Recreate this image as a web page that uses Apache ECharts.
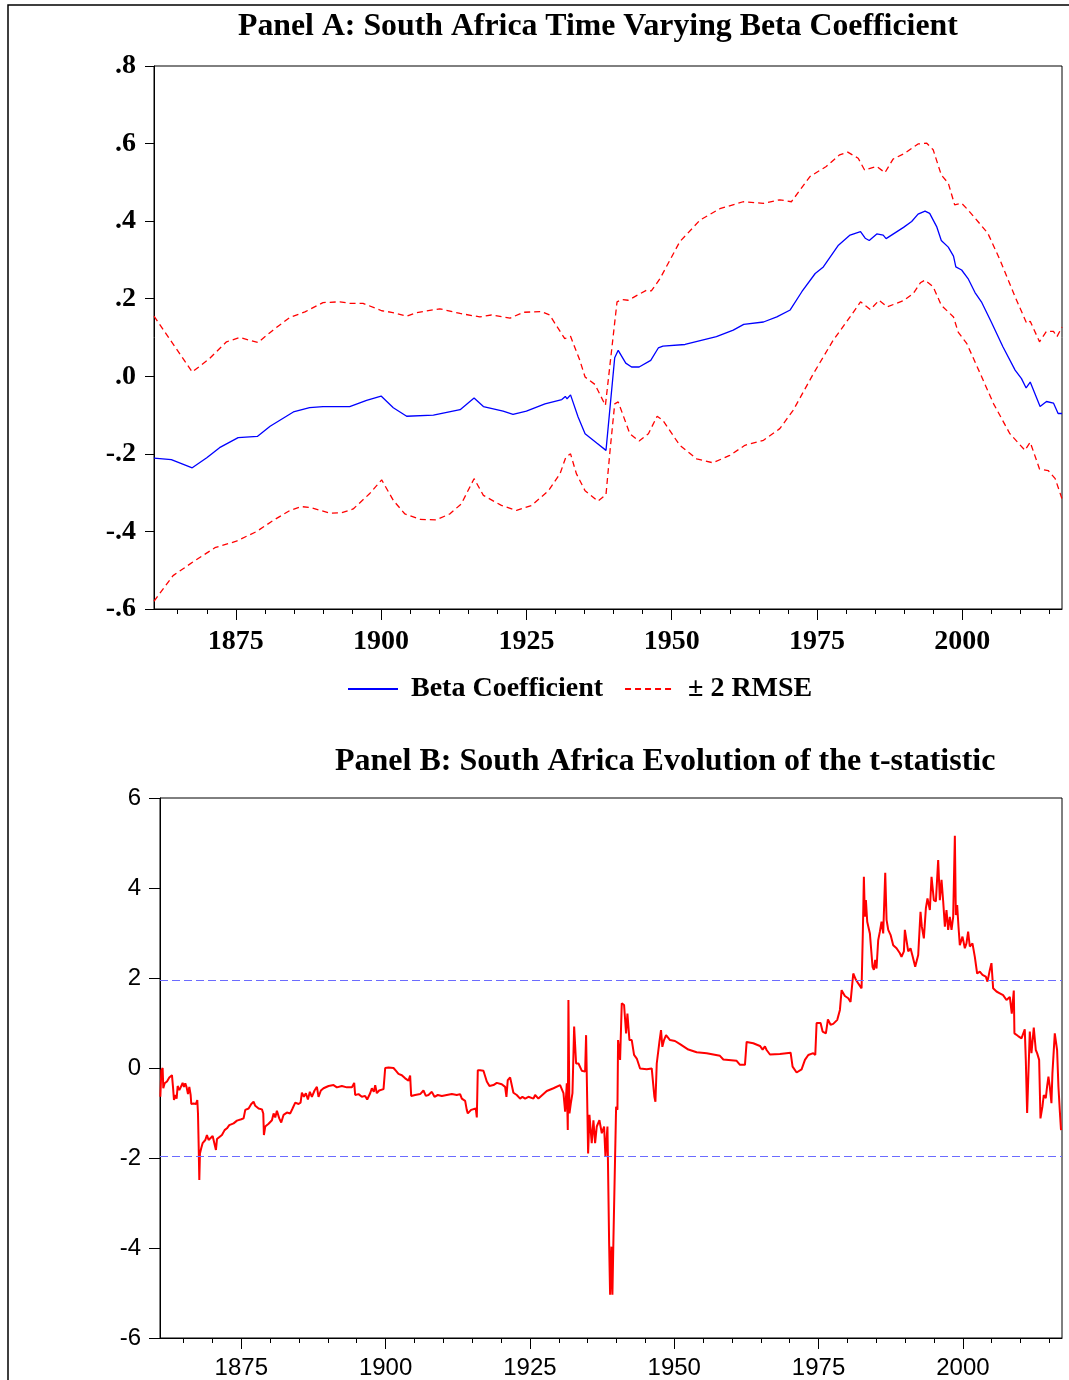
<!DOCTYPE html>
<html>
<head>
<meta charset="utf-8">
<script src="https://cdn.jsdelivr.net/npm/echarts@6/dist/echarts.min.js"></script>
<style>
  html, body { margin: 0; padding: 0; background: #fff; }
  #chart { width: 1069px; height: 1380px; }
</style>
</head>
<body>
<div id="chart"></div>
<script>
// ---------- Panel A data ----------
const betaYears = [1860.92,1863.9,1867.5,1870.0,1872.2,1875.4,1878.7,1880.9,1884.9,1887.7,1890.0,1894.6,1897.5,1900.0,1902.1,1904.4,1909.0,1913.6,1916.0,1917.6,1921.0,1922.7,1925.0,1928.2,1931.1,1931.7,1932.0,1932.6,1933.9,1935.1,1937.1,1938.7,1940.2,1940.8,1942.1,1943.1,1944.4,1946.4,1947.7,1948.5,1952.3,1957.7,1960.6,1962.4,1965.8,1968.1,1970.4,1972.4,1974.7,1976.1,1978.7,1980.7,1982.5,1983.3,1984.0,1985.3,1986.4,1986.9,1989.9,1991.3,1992.4,1993.6,1994.4,1995.6,1996.4,1997.6,1998.5,1998.9,1999.9,2001.0,2002.2,2003.3,2005.0,2007.0,2009.1,2010.2,2011.0,2011.7,2013.4,2014.5,2015.7,2016.5,2017.17];
const betaValues = [-0.211,-0.215,-0.236,-0.210,-0.184,-0.158,-0.155,-0.129,-0.092,-0.081,-0.078,-0.078,-0.062,-0.051,-0.081,-0.103,-0.100,-0.086,-0.056,-0.078,-0.090,-0.098,-0.090,-0.071,-0.060,-0.052,-0.058,-0.048,-0.105,-0.148,-0.172,-0.191,0.048,0.067,0.034,0.024,0.024,0.041,0.073,0.078,0.082,0.102,0.119,0.134,0.140,0.153,0.171,0.218,0.265,0.282,0.338,0.364,0.373,0.356,0.350,0.367,0.364,0.355,0.384,0.399,0.418,0.426,0.420,0.386,0.350,0.333,0.310,0.282,0.274,0.252,0.216,0.192,0.140,0.076,0.016,-0.006,-0.030,-0.015,-0.078,-0.065,-0.069,-0.096,-0.096];

const upperYears = [1860.92,1867.5,1870.5,1873.4,1875.7,1878.8,1881.4,1884.3,1886.9,1890.0,1892.9,1894.6,1896.9,1900.1,1901.8,1904.4,1906.1,1910.1,1913.6,1917.0,1919.0,1922.2,1924.5,1927.6,1929.0,1931.6,1932.6,1934.2,1935.1,1936.8,1938.6,1940.6,1941.4,1942.5,1945.7,1946.5,1948.0,1951.4,1954.9,1958.3,1962.3,1965.8,1968.6,1970.6,1973.8,1976.6,1978.9,1980.3,1982.1,1983.2,1985.3,1986.7,1988.1,1990.1,1992.4,1993.9,1995.0,1996.4,1997.6,1998.7,1999.9,2001.0,2002.7,2004.4,2006.5,2009.1,2011.1,2011.7,2013.3,2014.5,2015.7,2016.3,2017.17];
const upperValues = [0.155,0.011,0.046,0.089,0.100,0.087,0.119,0.152,0.166,0.190,0.192,0.188,0.188,0.169,0.165,0.155,0.164,0.174,0.162,0.153,0.158,0.150,0.165,0.167,0.158,0.097,0.103,0.041,-0.002,-0.021,-0.075,0.192,0.198,0.196,0.222,0.220,0.252,0.347,0.403,0.432,0.450,0.446,0.455,0.450,0.515,0.541,0.571,0.578,0.562,0.532,0.541,0.525,0.560,0.575,0.599,0.601,0.584,0.519,0.498,0.442,0.446,0.429,0.399,0.369,0.300,0.205,0.136,0.142,0.089,0.116,0.116,0.102,0.127];

const lowerYears = [1860.92,1864.2,1867.6,1871.4,1875.1,1878.6,1881.4,1884.3,1886.3,1887.7,1891.2,1893.2,1895.2,1898.0,1900.1,1902.1,1904.1,1906.7,1909.5,1911.8,1913.8,1916.0,1917.6,1920.7,1923.3,1925.9,1928.8,1930.8,1931.8,1932.6,1933.6,1935.1,1937.3,1938.7,1939.4,1940.2,1940.8,1942.8,1944.4,1946.0,1947.5,1948.5,1951.4,1954.3,1957.1,1960.0,1962.6,1965.8,1968.6,1970.9,1974.4,1977.8,1980.7,1982.5,1984.2,1985.7,1987.1,1989.9,1991.6,1992.8,1993.6,1995.0,1996.4,1998.5,1999.3,2000.8,2003.1,2005.4,2008.2,2010.8,2011.7,2013.3,2014.8,2016.0,2017.17];
const lowerValues = [-0.580,-0.514,-0.479,-0.442,-0.425,-0.400,-0.372,-0.346,-0.336,-0.338,-0.353,-0.352,-0.342,-0.303,-0.267,-0.320,-0.355,-0.369,-0.370,-0.355,-0.329,-0.264,-0.307,-0.333,-0.346,-0.333,-0.295,-0.251,-0.208,-0.200,-0.251,-0.295,-0.322,-0.305,-0.191,-0.071,-0.066,-0.148,-0.167,-0.148,-0.103,-0.114,-0.178,-0.213,-0.223,-0.204,-0.178,-0.165,-0.135,-0.088,0.007,0.093,0.153,0.192,0.172,0.196,0.179,0.195,0.214,0.241,0.248,0.231,0.183,0.153,0.114,0.084,0.007,-0.071,-0.148,-0.191,-0.170,-0.239,-0.243,-0.264,-0.316];

// ---------- Panel B data ----------
const tYears = [1860.98,1861.15,1861.38,1861.49,1861.73,1862.13,1862.53,1862.99,1863.17,1863.34,1863.57,1863.80,1863.98,1864.27,1864.50,1864.84,1865.07,1865.30,1865.53,1865.77,1866.00,1866.23,1866.34,1866.75,1867.15,1867.38,1867.50,1867.61,1867.73,1867.84,1868.07,1868.30,1868.77,1869.05,1869.34,1869.63,1870.04,1870.38,1870.61,1870.79,1871.07,1871.65,1872.11,1872.52,1872.92,1873.67,1874.25,1875.00,1875.40,1875.69,1876.27,1876.73,1877.13,1877.42,1878.00,1878.58,1878.81,1878.92,1879.15,1879.73,1880.31,1880.60,1880.88,1881.17,1881.58,1881.92,1882.33,1882.90,1883.48,1883.88,1884.35,1884.92,1885.27,1885.50,1885.85,1886.19,1886.54,1886.88,1887.23,1887.69,1888.10,1888.38,1888.79,1889.25,1890.12,1890.98,1891.56,1892.42,1893.29,1894.16,1894.56,1894.73,1895.31,1895.89,1896.46,1896.81,1897.33,1897.62,1897.96,1898.20,1898.48,1898.89,1899.64,1899.93,1900.50,1901.37,1901.77,1902.23,1902.81,1903.39,1903.97,1904.25,1904.43,1905.12,1905.99,1906.56,1906.97,1907.43,1908.01,1908.47,1909.04,1909.74,1910.60,1911.47,1912.33,1912.91,1913.20,1913.78,1914.06,1914.24,1914.81,1915.62,1915.80,1915.97,1916.37,1916.95,1917.24,1917.53,1917.99,1918.68,1919.26,1920.12,1920.70,1920.93,1921.16,1921.57,1921.85,1922.14,1922.72,1923.30,1923.70,1924.17,1924.74,1925.61,1925.90,1926.47,1927.92,1929.08,1930.23,1930.81,1931.10,1931.39,1931.56,1931.67,1931.85,1932.08,1932.37,1932.66,1933.00,1933.41,1933.98,1934.56,1934.73,1934.96,1935.08,1935.31,1935.71,1936.00,1936.29,1936.58,1937.04,1937.45,1937.85,1938.08,1938.43,1938.72,1938.89,1939.12,1939.29,1939.47,1939.93,1940.16,1940.27,1940.62,1940.91,1941.31,1941.66,1941.89,1942.24,1942.64,1943.04,1943.51,1944.08,1945.24,1946.10,1946.39,1946.56,1946.74,1946.97,1947.43,1947.71,1947.94,1948.23,1948.58,1949.27,1950.13,1951.00,1952.44,1953.88,1955.62,1957.92,1958.50,1960.81,1961.39,1962.25,1962.54,1963.69,1964.85,1965.31,1965.71,1966.00,1966.58,1968.31,1970.16,1970.50,1971.20,1972.06,1972.64,1973.22,1974.08,1974.43,1974.66,1975.35,1975.70,1976.27,1976.62,1977.08,1977.54,1978.24,1978.70,1978.99,1979.56,1980.14,1980.54,1981.01,1981.47,1981.87,1982.45,1982.68,1982.85,1983.02,1983.20,1983.43,1983.89,1984.35,1984.58,1984.81,1985.04,1985.33,1985.62,1985.91,1986.20,1986.55,1986.78,1987.07,1987.47,1987.93,1988.51,1989.09,1989.37,1989.78,1989.95,1990.53,1990.93,1991.28,1991.74,1992.26,1992.66,1992.89,1993.24,1993.59,1993.87,1994.28,1994.57,1994.97,1995.32,1995.72,1996.01,1996.30,1996.59,1996.88,1997.16,1997.45,1997.74,1998.03,1998.32,1998.61,1998.78,1999.01,1999.24,1999.47,1999.93,2000.34,2000.62,2000.91,2001.20,2001.66,2002.07,2002.47,2002.93,2003.40,2003.97,2004.26,2004.67,2004.95,2005.24,2005.82,2006.40,2006.97,2007.55,2008.13,2008.47,2008.82,2008.93,2009.57,2010.15,2010.72,2010.90,2011.13,2011.36,2011.59,2011.88,2012.28,2012.63,2012.86,2013.21,2013.44,2013.78,2014.01,2014.36,2014.59,2014.82,2015.05,2015.34,2015.51,2015.92,2016.09,2016.32,2016.55,2016.78,2017.00];
const tValues = [-0.64,-0.05,0.00,-0.45,-0.34,-0.30,-0.21,-0.16,-0.42,-0.71,-0.60,-0.68,-0.40,-0.49,-0.43,-0.33,-0.42,-0.34,-0.43,-0.58,-0.42,-0.60,-0.80,-0.79,-0.80,-0.71,-1.01,-1.67,-2.49,-1.90,-1.78,-1.67,-1.60,-1.49,-1.60,-1.56,-1.51,-1.54,-1.82,-1.58,-1.54,-1.49,-1.38,-1.34,-1.27,-1.23,-1.17,-1.14,-1.12,-0.93,-0.90,-0.80,-0.75,-0.84,-0.90,-0.92,-1.01,-1.49,-1.30,-1.24,-1.16,-1.01,-1.10,-0.95,-1.12,-1.21,-1.04,-0.99,-1.01,-0.90,-0.77,-0.80,-0.77,-0.55,-0.64,-0.56,-0.70,-0.53,-0.64,-0.50,-0.42,-0.64,-0.50,-0.45,-0.40,-0.38,-0.43,-0.40,-0.43,-0.43,-0.33,-0.60,-0.58,-0.64,-0.62,-0.70,-0.56,-0.45,-0.53,-0.38,-0.56,-0.50,-0.47,0.00,0.01,0.00,-0.06,-0.13,-0.16,-0.23,-0.28,-0.17,-0.62,-0.60,-0.58,-0.50,-0.62,-0.60,-0.53,-0.64,-0.60,-0.62,-0.60,-0.58,-0.60,-0.58,-0.68,-0.73,-0.93,-1.01,-0.93,-0.90,-1.10,-0.05,-0.05,-0.06,-0.04,-0.30,-0.40,-0.38,-0.33,-0.36,-0.42,-0.64,-0.27,-0.21,-0.23,-0.55,-0.60,-0.68,-0.64,-0.68,-0.64,-0.68,-0.60,-0.68,-0.51,-0.45,-0.38,-0.56,-0.97,-0.34,-1.38,1.51,-1.01,-0.79,-0.56,0.92,0.10,0.10,-0.06,-0.08,0.73,-1.01,-1.90,-1.04,-1.67,-1.16,-1.67,-1.30,-1.16,-1.45,-1.30,-1.97,-1.30,-3.89,-5.04,-3.97,-5.04,-3.78,-0.86,-0.93,0.62,0.18,1.44,1.40,0.77,1.21,0.62,0.62,0.29,0.21,-0.01,-0.03,-0.01,-0.04,-0.64,-0.75,0.10,0.58,0.84,0.47,0.62,0.73,0.62,0.60,0.53,0.41,0.35,0.33,0.27,0.19,0.16,0.07,0.07,0.58,0.55,0.49,0.41,0.48,0.40,0.30,0.31,0.34,0.03,-0.10,-0.03,0.18,0.29,0.33,0.29,1.00,1.00,0.81,0.77,1.08,0.96,0.98,1.07,1.29,1.73,1.60,1.55,1.47,2.10,1.96,1.88,1.77,3.07,4.25,3.36,3.73,3.25,2.99,2.25,2.18,2.40,2.21,2.84,3.03,3.25,2.99,4.34,3.29,3.07,2.96,2.73,2.66,2.55,2.47,2.59,3.07,2.59,2.66,2.49,2.25,2.51,3.47,3.14,2.88,3.55,3.77,3.51,4.25,3.73,3.70,4.62,3.73,4.18,3.70,3.14,3.51,3.07,3.36,3.07,3.36,5.16,3.40,3.62,3.14,2.73,2.92,2.66,2.77,3.03,2.70,2.77,2.47,2.10,2.14,2.07,2.03,1.92,2.18,2.33,1.77,1.70,1.66,1.62,1.51,1.58,1.21,1.72,0.77,0.71,0.66,0.86,0.18,-1.00,-0.99,0.81,0.33,0.90,0.40,0.33,0.18,-1.12,-0.86,-0.60,-0.67,-0.41,-0.19,-0.41,-0.78,-0.12,0.77,0.81,0.40,-0.41,-0.93,-1.38];
const criticalValues = [1.96, -1.96];

// ---------- axis ticks / labels ----------
const yearLabels = [1875, 1900, 1925, 1950, 1975, 2000];
const yearMinorTicks = [1865,1870,1875,1880,1885,1890,1895,1900,1905,1910,1915,1920,1925,1930,1935,1940,1945,1950,1955,1960,1965,1970,1975,1980,1985,1990,1995,2000,2005,2010,2015];
const xMin = 1860.92, xMax = 2017.17;

const zip = (xs, ys) => xs.map((x, i) => [x, ys[i]]);

const SERIF = "'Liberation Serif', 'Times New Roman', serif";
const SANS = "'Liberation Sans', Arial, sans-serif";

function betaLabel(v) {
  if (Math.abs(v) < 1e-9) return '.0';
  return v.toFixed(1).replace('0.', '.');
}

function xAxes(gridIndex, font) {
  return [
    {
      gridIndex, type: 'value', min: xMin, max: xMax, position: 'bottom',
      axisLine: { show: true, onZero: false, lineStyle: { color: '#000', width: 1 } },
      axisTick: { show: true, customValues: yearMinorTicks, length: 5, lineStyle: { color: '#000', width: 1 } },
      axisLabel: Object.assign({ customValues: yearLabels, formatter: v => String(Math.round(v)), color: '#000' }, font),
      splitLine: { show: false }
    },
    {
      gridIndex, type: 'value', min: xMin, max: xMax, position: 'bottom',
      axisLine: { show: false, onZero: false },
      axisTick: { show: true, customValues: yearLabels, length: 11, lineStyle: { color: '#000', width: 1 } },
      axisLabel: { show: false },
      splitLine: { show: false }
    }
  ];
}

const chart = echarts.init(document.getElementById('chart'), null, { renderer: 'canvas' });
const option = {
  animation: false,
  backgroundColor: '#ffffff',
  graphic: [
    { type: 'polyline', shape: { points: [[8, 1380], [8, 5], [1069, 5]] }, style: { fill: 'none', stroke: '#000', lineWidth: 1.5 }, silent: true, z: 100 }
  ],
  title: [
    { text: 'Panel A: South Africa Time Varying Beta Coefficient', left: 238, top: 11, padding: 0,
      textStyle: { fontFamily: SERIF, fontWeight: 'bold', fontSize: 31.8, color: '#000' } },
    { text: 'Panel B: South Africa Evolution of the t-statistic', left: 335, top: 746, padding: 0,
      textStyle: { fontFamily: SERIF, fontWeight: 'bold', fontSize: 32, color: '#000' } }
  ],
  legend: {
    left: 347, top: 675, padding: 0, itemWidth: 50, itemHeight: 14, itemGap: 21,
    data: ['Beta Coefficient', '± 2 RMSE'],
    itemStyle: { opacity: 0 },
    textStyle: { fontFamily: SERIF, fontWeight: 'bold', fontSize: 28, color: '#000', padding: [0, 0, 0, 8] }
  },
  grid: [
    { left: 154, right: 7, top: 66, height: 543, show: true, borderColor: '#000', borderWidth: 1, backgroundColor: 'transparent' },
    { left: 160, right: 7, top: 798, height: 540, show: true, borderColor: '#000', borderWidth: 1, backgroundColor: 'transparent' }
  ],
  xAxis: [
    ...xAxes(0, { fontFamily: SERIF, fontWeight: 'bold', fontSize: 28, margin: 19 }),
    ...xAxes(1, { fontFamily: SANS, fontWeight: 'normal', fontSize: 24, margin: 18 })
  ],
  yAxis: [
    {
      gridIndex: 0, type: 'value', min: -0.6, max: 0.8, interval: 0.2,
      axisLine: { show: true, onZero: false, lineStyle: { color: '#000', width: 1 } },
      axisTick: { show: true, length: 9, lineStyle: { color: '#000' } },
      axisLabel: { formatter: betaLabel, fontFamily: SERIF, fontWeight: 'bold', fontSize: 28, color: '#000', margin: 18 },
      splitLine: { show: false }
    },
    {
      gridIndex: 1, type: 'value', min: -6, max: 6, interval: 2,
      axisLine: { show: true, onZero: false, lineStyle: { color: '#000', width: 1 } },
      axisTick: { show: true, length: 11, lineStyle: { color: '#000' } },
      axisLabel: { fontFamily: SANS, fontSize: 24, color: '#000', margin: 19 },
      splitLine: { show: false }
    }
  ],
  series: [
    { name: 'Beta Coefficient', type: 'line', xAxisIndex: 0, yAxisIndex: 0, data: zip(betaYears, betaValues),
      symbol: 'none', showSymbol: false, lineStyle: { color: '#0000ff', width: 1.3 }, itemStyle: { color: '#0000ff' } },
    { name: '± 2 RMSE', type: 'line', xAxisIndex: 0, yAxisIndex: 0, data: zip(upperYears, upperValues),
      symbol: 'none', showSymbol: false, lineStyle: { color: '#ff0000', width: 1.3, type: [6, 4] }, itemStyle: { color: '#ff0000' } },
    { name: '± 2 RMSE', type: 'line', xAxisIndex: 0, yAxisIndex: 0, data: zip(lowerYears, lowerValues),
      symbol: 'none', showSymbol: false, lineStyle: { color: '#ff0000', width: 1.3, type: [6, 4] }, itemStyle: { color: '#ff0000' } },
    { name: 't-statistic', type: 'line', xAxisIndex: 2, yAxisIndex: 1, data: zip(tYears, tValues),
      symbol: 'none', showSymbol: false, lineStyle: { color: '#ff0000', width: 2 }, itemStyle: { color: '#ff0000' },
      markLine: {
        silent: true, symbol: ['none', 'none'], label: { show: false },
        lineStyle: { color: '#6b6bff', width: 1, type: [8, 4] },
        data: criticalValues.map(v => ({ yAxis: v }))
      }
    }
  ]
};
chart.setOption(option);
</script>
</body>
</html>
